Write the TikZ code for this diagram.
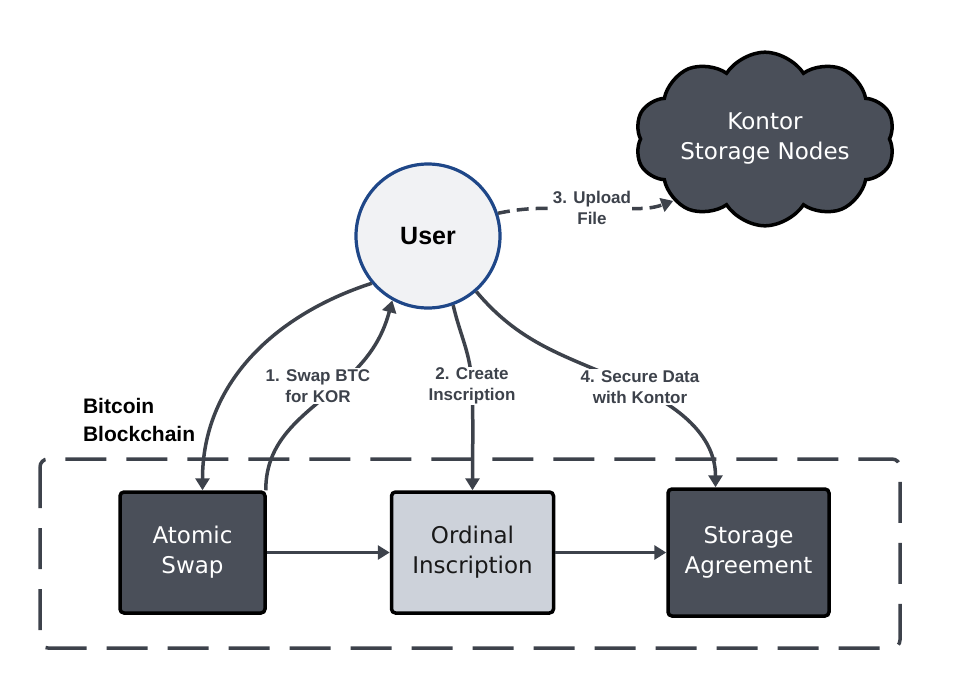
\documentclass[tikz,border=0pt]{standalone}
\usepackage{fontspec}
\setmainfont{Liberation Sans}
\newfontfamily\boxfont{DejaVu Sans}
\usetikzlibrary{positioning,arrows.meta,shapes.symbols}
\definecolor{linecol}{HTML}{3D424B}
\definecolor{darkfill}{HTML}{4A4F59}
\definecolor{lightfill}{HTML}{CDD2DA}
\definecolor{userfill}{HTML}{F1F2F4}
\definecolor{userline}{HTML}{1F4788}

\begin{document}
\begin{tikzpicture}[x=1pt,y=-1pt,>={Triangle[length=12pt,width=14pt]},line width=3.5pt,
    main box/.style={draw=black,rounded corners=4pt,minimum height=121pt,align=center,
        font=\boxfont\fontsize{23}{30}\selectfont},
    dark box/.style={main box,fill=darkfill,text=white},
    light box/.style={main box,fill=lightfill,text=black!90},
    user node/.style={circle,draw=userline,line width=3.2pt,fill=userfill,minimum size=144pt,
        font=\bfseries\fontsize{25}{28}\selectfont},
    cloud node/.style={cloud,cloud puffs=10,cloud puff arc=115,aspect=1.8,draw=black,
        fill=darkfill,text=white,minimum width=252pt,minimum height=134pt,align=center,
        font=\boxfont\fontsize{23}{30}\selectfont},
    edge label/.style={fill=white,inner sep=1pt,align=center,text=linecol,
        font=\bfseries\fontsize{17}{21}\selectfont},
    link/.style={->,draw=linecol}]

        \useasboundingbox (0,0) rectangle (953,689);

        % blockchain frame
        \draw[linecol,dash pattern=on 41pt off 20pt,rounded corners=8pt]
            (40,459) rectangle (900,648);
        \node[anchor=west,align=left,font=\bfseries\fontsize{21}{28}\selectfont] (chain)
            at (78,420) {Bitcoin\\Blockchain};

        \node[dark box,minimum width=145pt] (atomic) at (192.5,552.5) {Atomic\\Swap};
        \node[light box,minimum width=162pt] (ordinal) [right=123pt of atomic] {Ordinal\\Inscription};
        \node[dark box,minimum width=161pt,minimum height=127pt] (storage) [right=111pt of ordinal] {Storage\\Agreement};

        \node[user node] (user) at (428,236) {User};
        \node[cloud node] (cloud) at (765,139) {Kontor\\Storage Nodes};

        % points where the labels sit on the links
        \coordinate (swap pt) at (338,386);
        \coordinate (create pt) at (472,386);
        \coordinate (secure pt) at (638,388);
        \coordinate (upload pt) at (590,209);

        \draw[link] (atomic) -- (ordinal);
        \draw[link] (ordinal) -- (storage);
        \draw[link] (user.220) to[out=198,in=90] ([xshift=10pt]atomic.north);
        \draw[link] ([xshift=-1pt]atomic.north east) to[out=90,in=220] (swap pt)
            to[out=40,in=255] (user.241);
        \draw[link] (user.290) to[out=283,in=92] (create pt) to[out=272,in=90] (ordinal.north);
        \draw[link] (user.311) to[out=310,in=155] (secure pt)
            to[out=-25,in=90] ([xshift=-33pt]storage.north);
        \draw[link,dash pattern=on 12pt off 7pt] (user.18) to[out=12,in=180] (upload pt)
            to[out=5,in=200] (cloud.214);

        \node[edge label] (swap) at (318,386) {1. Swap BTC\\for KOR};
        \node[edge label] (create) at (create pt) {2. Create\\Inscription};
        \node[edge label] (secure) at (640,387) {4. Secure Data\\with Kontor};
        \node[edge label] (upload) at (592,208) {3. Upload\\File};
\end{tikzpicture}
\end{document}
